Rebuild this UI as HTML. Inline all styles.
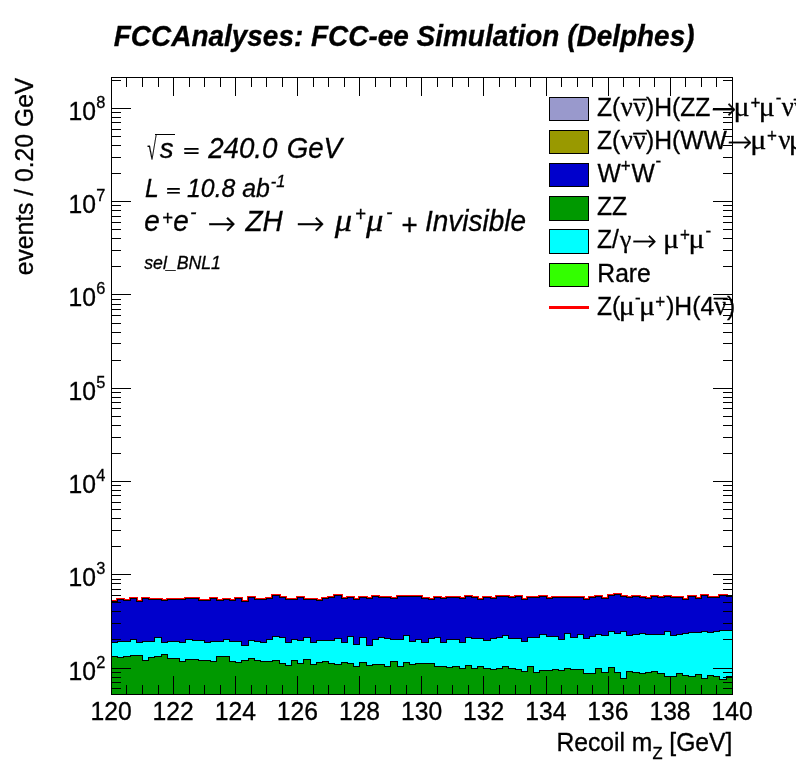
<!DOCTYPE html>
<html lang="en"><head><meta charset="utf-8"><title>FCCAnalyses: FCC-ee Simulation (Delphes)</title>
<style>html,body{margin:0;padding:0;background:#fff;overflow:hidden;}svg{display:block;}text{font-family:"Liberation Sans",Arial,Helvetica,sans-serif;fill:#000;white-space:pre;stroke:#000;stroke-width:0.3px;}.i{font-style:italic;}.b{font-weight:bold;font-style:italic;}.s{font-family:"Liberation Serif","DejaVu Serif",serif;}.si{font-family:"Liberation Serif","DejaVu Serif",serif;font-style:italic;}.a{font-family:"DejaVu Sans Light","DejaVu Serif","DejaVu Sans",serif;font-weight:200;}</style></head><body>
<svg width="796" height="772" viewBox="0 0 796 772">
<rect x="0" y="0" width="796" height="772" fill="#ffffff"/>
<g shape-rendering="crispEdges">
<path d="M111.50 601.5 L117.50 601.5 L117.50 599.5 L123.50 599.5 L123.50 600.5 L130.50 600.5 L130.50 598.5 L136.50 598.5 L136.50 601.5 L142.50 601.5 L142.50 598.5 L148.50 598.5 L148.50 599.5 L154.50 599.5 L154.50 599.5 L161.50 599.5 L161.50 600.5 L167.50 600.5 L167.50 599.5 L173.50 599.5 L173.50 599.5 L179.50 599.5 L179.50 599.5 L185.50 599.5 L185.50 598.5 L192.50 598.5 L192.50 598.5 L198.50 598.5 L198.50 600.5 L204.50 600.5 L204.50 600.5 L210.50 600.5 L210.50 598.5 L216.50 598.5 L216.50 600.5 L223.50 600.5 L223.50 599.5 L229.50 599.5 L229.50 600.5 L235.50 600.5 L235.50 598.5 L241.50 598.5 L241.50 601.5 L248.50 601.5 L248.50 597.5 L254.50 597.5 L254.50 599.5 L260.50 599.5 L260.50 599.5 L266.50 599.5 L266.50 598.5 L272.50 598.5 L272.50 595.5 L279.50 595.5 L279.50 597.5 L285.50 597.5 L285.50 599.5 L291.50 599.5 L291.50 599.5 L297.50 599.5 L297.50 597.5 L303.50 597.5 L303.50 599.5 L310.50 599.5 L310.50 599.5 L316.50 599.5 L316.50 600.5 L322.50 600.5 L322.50 598.5 L328.50 598.5 L328.50 597.5 L334.50 597.5 L334.50 595.5 L341.50 595.5 L341.50 598.5 L347.50 598.5 L347.50 597.5 L353.50 597.5 L353.50 599.5 L359.50 599.5 L359.50 597.5 L366.50 597.5 L366.50 598.5 L372.50 598.5 L372.50 596.5 L378.50 596.5 L378.50 597.5 L384.50 597.5 L384.50 597.5 L390.50 597.5 L390.50 598.5 L397.50 598.5 L397.50 596.5 L403.50 596.5 L403.50 596.5 L409.50 596.5 L409.50 596.5 L415.50 596.5 L415.50 596.5 L421.50 596.5 L421.50 598.5 L428.50 598.5 L428.50 599.5 L434.50 599.5 L434.50 597.5 L440.50 597.5 L440.50 598.5 L446.50 598.5 L446.50 597.5 L452.50 597.5 L452.50 597.5 L459.50 597.5 L459.50 598.5 L465.50 598.5 L465.50 596.5 L471.50 596.5 L471.50 597.5 L477.50 597.5 L477.50 599.5 L483.50 599.5 L483.50 597.5 L490.50 597.5 L490.50 598.5 L496.50 598.5 L496.50 596.5 L502.50 596.5 L502.50 596.5 L508.50 596.5 L508.50 597.5 L515.50 597.5 L515.50 596.5 L521.50 596.5 L521.50 599.5 L527.50 599.5 L527.50 597.5 L533.50 597.5 L533.50 597.5 L539.50 597.5 L539.50 596.5 L546.50 596.5 L546.50 598.5 L552.50 598.5 L552.50 597.5 L558.50 597.5 L558.50 597.5 L564.50 597.5 L564.50 597.5 L570.50 597.5 L570.50 597.5 L577.50 597.5 L577.50 597.5 L583.50 597.5 L583.50 599.5 L589.50 599.5 L589.50 597.5 L595.50 597.5 L595.50 596.5 L601.50 596.5 L601.50 598.5 L608.50 598.5 L608.50 595.5 L614.50 595.5 L614.50 594.5 L620.50 594.5 L620.50 596.5 L626.50 596.5 L626.50 597.5 L632.50 597.5 L632.50 596.5 L639.50 596.5 L639.50 597.5 L645.50 597.5 L645.50 598.5 L651.50 598.5 L651.50 596.5 L657.50 596.5 L657.50 597.5 L664.50 597.5 L664.50 596.5 L670.50 596.5 L670.50 597.5 L676.50 597.5 L676.50 597.5 L682.50 597.5 L682.50 599.5 L688.50 599.5 L688.50 596.5 L695.50 596.5 L695.50 598.5 L701.50 598.5 L701.50 595.5 L707.50 595.5 L707.50 597.5 L713.50 597.5 L713.50 597.5 L719.50 597.5 L719.50 595.5 L726.50 595.5 L726.50 596.5 L732.50 596.5" fill="none" stroke="#ff0000" stroke-width="3" stroke-linejoin="miter"/>
<path d="M111.50 694.5 L111.50 601.5 L117.50 601.5 L117.50 599.5 L123.50 599.5 L123.50 600.5 L130.50 600.5 L130.50 598.5 L136.50 598.5 L136.50 601.5 L142.50 601.5 L142.50 598.5 L148.50 598.5 L148.50 599.5 L154.50 599.5 L154.50 599.5 L161.50 599.5 L161.50 600.5 L167.50 600.5 L167.50 599.5 L173.50 599.5 L173.50 599.5 L179.50 599.5 L179.50 599.5 L185.50 599.5 L185.50 598.5 L192.50 598.5 L192.50 598.5 L198.50 598.5 L198.50 600.5 L204.50 600.5 L204.50 600.5 L210.50 600.5 L210.50 598.5 L216.50 598.5 L216.50 600.5 L223.50 600.5 L223.50 599.5 L229.50 599.5 L229.50 600.5 L235.50 600.5 L235.50 598.5 L241.50 598.5 L241.50 601.5 L248.50 601.5 L248.50 597.5 L254.50 597.5 L254.50 599.5 L260.50 599.5 L260.50 599.5 L266.50 599.5 L266.50 598.5 L272.50 598.5 L272.50 595.5 L279.50 595.5 L279.50 597.5 L285.50 597.5 L285.50 599.5 L291.50 599.5 L291.50 599.5 L297.50 599.5 L297.50 597.5 L303.50 597.5 L303.50 599.5 L310.50 599.5 L310.50 599.5 L316.50 599.5 L316.50 600.5 L322.50 600.5 L322.50 598.5 L328.50 598.5 L328.50 597.5 L334.50 597.5 L334.50 595.5 L341.50 595.5 L341.50 598.5 L347.50 598.5 L347.50 597.5 L353.50 597.5 L353.50 599.5 L359.50 599.5 L359.50 597.5 L366.50 597.5 L366.50 598.5 L372.50 598.5 L372.50 596.5 L378.50 596.5 L378.50 597.5 L384.50 597.5 L384.50 597.5 L390.50 597.5 L390.50 598.5 L397.50 598.5 L397.50 596.5 L403.50 596.5 L403.50 596.5 L409.50 596.5 L409.50 596.5 L415.50 596.5 L415.50 596.5 L421.50 596.5 L421.50 598.5 L428.50 598.5 L428.50 599.5 L434.50 599.5 L434.50 597.5 L440.50 597.5 L440.50 598.5 L446.50 598.5 L446.50 597.5 L452.50 597.5 L452.50 597.5 L459.50 597.5 L459.50 598.5 L465.50 598.5 L465.50 596.5 L471.50 596.5 L471.50 597.5 L477.50 597.5 L477.50 599.5 L483.50 599.5 L483.50 597.5 L490.50 597.5 L490.50 598.5 L496.50 598.5 L496.50 596.5 L502.50 596.5 L502.50 596.5 L508.50 596.5 L508.50 597.5 L515.50 597.5 L515.50 596.5 L521.50 596.5 L521.50 599.5 L527.50 599.5 L527.50 597.5 L533.50 597.5 L533.50 597.5 L539.50 597.5 L539.50 596.5 L546.50 596.5 L546.50 598.5 L552.50 598.5 L552.50 597.5 L558.50 597.5 L558.50 597.5 L564.50 597.5 L564.50 597.5 L570.50 597.5 L570.50 597.5 L577.50 597.5 L577.50 597.5 L583.50 597.5 L583.50 599.5 L589.50 599.5 L589.50 597.5 L595.50 597.5 L595.50 596.5 L601.50 596.5 L601.50 598.5 L608.50 598.5 L608.50 595.5 L614.50 595.5 L614.50 594.5 L620.50 594.5 L620.50 596.5 L626.50 596.5 L626.50 597.5 L632.50 597.5 L632.50 596.5 L639.50 596.5 L639.50 597.5 L645.50 597.5 L645.50 598.5 L651.50 598.5 L651.50 596.5 L657.50 596.5 L657.50 597.5 L664.50 597.5 L664.50 596.5 L670.50 596.5 L670.50 597.5 L676.50 597.5 L676.50 597.5 L682.50 597.5 L682.50 599.5 L688.50 599.5 L688.50 596.5 L695.50 596.5 L695.50 598.5 L701.50 598.5 L701.50 595.5 L707.50 595.5 L707.50 597.5 L713.50 597.5 L713.50 597.5 L719.50 597.5 L719.50 595.5 L726.50 595.5 L726.50 596.5 L732.50 596.5 L732.50 694.5 Z" fill="#0000cc" stroke="#000" stroke-width="1"/>
<path d="M111.50 694.5 L111.50 642.5 L117.50 642.5 L117.50 641.5 L123.50 641.5 L123.50 641.5 L130.50 641.5 L130.50 639.5 L136.50 639.5 L136.50 642.5 L142.50 642.5 L142.50 641.5 L148.50 641.5 L148.50 641.5 L154.50 641.5 L154.50 637.5 L161.50 637.5 L161.50 642.5 L167.50 642.5 L167.50 641.5 L173.50 641.5 L173.50 641.5 L179.50 641.5 L179.50 642.5 L185.50 642.5 L185.50 639.5 L192.50 639.5 L192.50 640.5 L198.50 640.5 L198.50 640.5 L204.50 640.5 L204.50 642.5 L210.50 642.5 L210.50 641.5 L216.50 641.5 L216.50 641.5 L223.50 641.5 L223.50 639.5 L229.50 639.5 L229.50 641.5 L235.50 641.5 L235.50 641.5 L241.50 641.5 L241.50 645.5 L248.50 645.5 L248.50 640.5 L254.50 640.5 L254.50 641.5 L260.50 641.5 L260.50 642.5 L266.50 642.5 L266.50 639.5 L272.50 639.5 L272.50 636.5 L279.50 636.5 L279.50 637.5 L285.50 637.5 L285.50 642.5 L291.50 642.5 L291.50 639.5 L297.50 639.5 L297.50 640.5 L303.50 640.5 L303.50 637.5 L310.50 637.5 L310.50 642.5 L316.50 642.5 L316.50 640.5 L322.50 640.5 L322.50 640.5 L328.50 640.5 L328.50 640.5 L334.50 640.5 L334.50 638.5 L341.50 638.5 L341.50 642.5 L347.50 642.5 L347.50 636.5 L353.50 636.5 L353.50 644.5 L359.50 644.5 L359.50 637.5 L366.50 637.5 L366.50 645.5 L372.50 645.5 L372.50 639.5 L378.50 639.5 L378.50 637.5 L384.50 637.5 L384.50 638.5 L390.50 638.5 L390.50 639.5 L397.50 639.5 L397.50 639.5 L403.50 639.5 L403.50 635.5 L409.50 635.5 L409.50 641.5 L415.50 641.5 L415.50 639.5 L421.50 639.5 L421.50 642.5 L428.50 642.5 L428.50 638.5 L434.50 638.5 L434.50 637.5 L440.50 637.5 L440.50 642.5 L446.50 642.5 L446.50 639.5 L452.50 639.5 L452.50 639.5 L459.50 639.5 L459.50 642.5 L465.50 642.5 L465.50 637.5 L471.50 637.5 L471.50 638.5 L477.50 638.5 L477.50 638.5 L483.50 638.5 L483.50 640.5 L490.50 640.5 L490.50 638.5 L496.50 638.5 L496.50 637.5 L502.50 637.5 L502.50 635.5 L508.50 635.5 L508.50 638.5 L515.50 638.5 L515.50 638.5 L521.50 638.5 L521.50 641.5 L527.50 641.5 L527.50 637.5 L533.50 637.5 L533.50 637.5 L539.50 637.5 L539.50 634.5 L546.50 634.5 L546.50 636.5 L552.50 636.5 L552.50 636.5 L558.50 636.5 L558.50 639.5 L564.50 639.5 L564.50 633.5 L570.50 633.5 L570.50 637.5 L577.50 637.5 L577.50 634.5 L583.50 634.5 L583.50 638.5 L589.50 638.5 L589.50 636.5 L595.50 636.5 L595.50 634.5 L601.50 634.5 L601.50 635.5 L608.50 635.5 L608.50 631.5 L614.50 631.5 L614.50 633.5 L620.50 633.5 L620.50 631.5 L626.50 631.5 L626.50 635.5 L632.50 635.5 L632.50 634.5 L639.50 634.5 L639.50 633.5 L645.50 633.5 L645.50 634.5 L651.50 634.5 L651.50 634.5 L657.50 634.5 L657.50 634.5 L664.50 634.5 L664.50 631.5 L670.50 631.5 L670.50 635.5 L676.50 635.5 L676.50 634.5 L682.50 634.5 L682.50 633.5 L688.50 633.5 L688.50 632.5 L695.50 632.5 L695.50 632.5 L701.50 632.5 L701.50 631.5 L707.50 631.5 L707.50 632.5 L713.50 632.5 L713.50 631.5 L719.50 631.5 L719.50 630.5 L726.50 630.5 L726.50 630.5 L732.50 630.5 L732.50 694.5 Z" fill="#00ffff" stroke="#000" stroke-width="1"/>
<path d="M111.50 694.5 L111.50 656.5 L117.50 656.5 L117.50 657.5 L123.50 657.5 L123.50 656.5 L130.50 656.5 L130.50 655.5 L136.50 655.5 L136.50 655.5 L142.50 655.5 L142.50 660.5 L148.50 660.5 L148.50 657.5 L154.50 657.5 L154.50 656.5 L161.50 656.5 L161.50 654.5 L167.50 654.5 L167.50 658.5 L173.50 658.5 L173.50 658.5 L179.50 658.5 L179.50 661.5 L185.50 661.5 L185.50 659.5 L192.50 659.5 L192.50 659.5 L198.50 659.5 L198.50 660.5 L204.50 660.5 L204.50 660.5 L210.50 660.5 L210.50 661.5 L216.50 661.5 L216.50 656.5 L223.50 656.5 L223.50 656.5 L229.50 656.5 L229.50 661.5 L235.50 661.5 L235.50 662.5 L241.50 662.5 L241.50 660.5 L248.50 660.5 L248.50 658.5 L254.50 658.5 L254.50 660.5 L260.50 660.5 L260.50 661.5 L266.50 661.5 L266.50 661.5 L272.50 661.5 L272.50 660.5 L279.50 660.5 L279.50 663.5 L285.50 663.5 L285.50 665.5 L291.50 665.5 L291.50 660.5 L297.50 660.5 L297.50 663.5 L303.50 663.5 L303.50 659.5 L310.50 659.5 L310.50 664.5 L316.50 664.5 L316.50 662.5 L322.50 662.5 L322.50 661.5 L328.50 661.5 L328.50 663.5 L334.50 663.5 L334.50 664.5 L341.50 664.5 L341.50 662.5 L347.50 662.5 L347.50 663.5 L353.50 663.5 L353.50 666.5 L359.50 666.5 L359.50 662.5 L366.50 662.5 L366.50 665.5 L372.50 665.5 L372.50 664.5 L378.50 664.5 L378.50 664.5 L384.50 664.5 L384.50 666.5 L390.50 666.5 L390.50 661.5 L397.50 661.5 L397.50 666.5 L403.50 666.5 L403.50 662.5 L409.50 662.5 L409.50 664.5 L415.50 664.5 L415.50 663.5 L421.50 663.5 L421.50 663.5 L428.50 663.5 L428.50 663.5 L434.50 663.5 L434.50 666.5 L440.50 666.5 L440.50 666.5 L446.50 666.5 L446.50 667.5 L452.50 667.5 L452.50 666.5 L459.50 666.5 L459.50 668.5 L465.50 668.5 L465.50 665.5 L471.50 665.5 L471.50 668.5 L477.50 668.5 L477.50 666.5 L483.50 666.5 L483.50 668.5 L490.50 668.5 L490.50 669.5 L496.50 669.5 L496.50 668.5 L502.50 668.5 L502.50 666.5 L508.50 666.5 L508.50 668.5 L515.50 668.5 L515.50 669.5 L521.50 669.5 L521.50 671.5 L527.50 671.5 L527.50 666.5 L533.50 666.5 L533.50 672.5 L539.50 672.5 L539.50 670.5 L546.50 670.5 L546.50 670.5 L552.50 670.5 L552.50 669.5 L558.50 669.5 L558.50 670.5 L564.50 670.5 L564.50 668.5 L570.50 668.5 L570.50 669.5 L577.50 669.5 L577.50 669.5 L583.50 669.5 L583.50 673.5 L589.50 673.5 L589.50 673.5 L595.50 673.5 L595.50 668.5 L601.50 668.5 L601.50 672.5 L608.50 672.5 L608.50 667.5 L614.50 667.5 L614.50 672.5 L620.50 672.5 L620.50 678.5 L626.50 678.5 L626.50 671.5 L632.50 671.5 L632.50 672.5 L639.50 672.5 L639.50 673.5 L645.50 673.5 L645.50 672.5 L651.50 672.5 L651.50 671.5 L657.50 671.5 L657.50 673.5 L664.50 673.5 L664.50 676.5 L670.50 676.5 L670.50 676.5 L676.50 676.5 L676.50 673.5 L682.50 673.5 L682.50 675.5 L688.50 675.5 L688.50 676.5 L695.50 676.5 L695.50 674.5 L701.50 674.5 L701.50 678.5 L707.50 678.5 L707.50 675.5 L713.50 675.5 L713.50 676.5 L719.50 676.5 L719.50 679.5 L726.50 679.5 L726.50 676.5 L732.50 676.5 L732.50 694.5 Z" fill="#009900" stroke="#000" stroke-width="1"/>
<path d="M111.5 695V676M111.5 77V96M126.5 695V685M126.5 77V87M142.5 695V685M142.5 77V87M158.5 695V685M158.5 77V87M173.5 695V676M173.5 77V96M189.5 695V685M189.5 77V87M204.5 695V685M204.5 77V87M220.5 695V685M220.5 77V87M235.5 695V676M235.5 77V96M251.5 695V685M251.5 77V87M266.5 695V685M266.5 77V87M282.5 695V685M282.5 77V87M297.5 695V676M297.5 77V96M313.5 695V685M313.5 77V87M328.5 695V685M328.5 77V87M344.5 695V685M344.5 77V87M359.5 695V676M359.5 77V96M375.5 695V685M375.5 77V87M390.5 695V685M390.5 77V87M406.5 695V685M406.5 77V87M421.5 695V676M421.5 77V96M437.5 695V685M437.5 77V87M452.5 695V685M452.5 77V87M468.5 695V685M468.5 77V87M483.5 695V676M483.5 77V96M499.5 695V685M499.5 77V87M515.5 695V685M515.5 77V87M530.5 695V685M530.5 77V87M546.5 695V676M546.5 77V96M561.5 695V685M561.5 77V87M577.5 695V685M577.5 77V87M592.5 695V685M592.5 77V87M608.5 695V676M608.5 77V96M623.5 695V685M623.5 77V87M639.5 695V685M639.5 77V87M654.5 695V685M654.5 77V87M670.5 695V676M670.5 77V96M685.5 695V685M685.5 77V87M701.5 695V685M701.5 77V87M716.5 695V685M716.5 77V87M732.5 695V676M732.5 77V96M111 688.5H121M733 688.5H723M111 682.5H121M733 682.5H723M111 677.5H121M733 677.5H723M111 672.5H121M733 672.5H723M111 668.5H131M733 668.5H713M111 639.5H121M733 639.5H723M111 623.5H121M733 623.5H723M111 611.5H121M733 611.5H723M111 602.5H121M733 602.5H723M111 595.5H121M733 595.5H723M111 589.5H121M733 589.5H723M111 583.5H121M733 583.5H723M111 579.5H121M733 579.5H723M111 574.5H131M733 574.5H713M111 546.5H121M733 546.5H723M111 530.5H121M733 530.5H723M111 518.5H121M733 518.5H723M111 509.5H121M733 509.5H723M111 502.5H121M733 502.5H723M111 495.5H121M733 495.5H723M111 490.5H121M733 490.5H723M111 485.5H121M733 485.5H723M111 481.5H131M733 481.5H713M111 453.5H121M733 453.5H723M111 437.5H121M733 437.5H723M111 425.5H121M733 425.5H723M111 416.5H121M733 416.5H723M111 408.5H121M733 408.5H723M111 402.5H121M733 402.5H723M111 397.5H121M733 397.5H723M111 392.5H121M733 392.5H723M111 388.5H131M733 388.5H713M111 360.5H121M733 360.5H723M111 343.5H121M733 343.5H723M111 332.5H121M733 332.5H723M111 323.5H121M733 323.5H723M111 315.5H121M733 315.5H723M111 309.5H121M733 309.5H723M111 304.5H121M733 304.5H723M111 299.5H121M733 299.5H723M111 294.5H131M733 294.5H713M111 266.5H121M733 266.5H723M111 250.5H121M733 250.5H723M111 238.5H121M733 238.5H723M111 229.5H121M733 229.5H723M111 222.5H121M733 222.5H723M111 216.5H121M733 216.5H723M111 210.5H121M733 210.5H723M111 205.5H121M733 205.5H723M111 201.5H131M733 201.5H713M111 173.5H121M733 173.5H723M111 157.5H121M733 157.5H723M111 145.5H121M733 145.5H723M111 136.5H121M733 136.5H723M111 129.5H121M733 129.5H723M111 122.5H121M733 122.5H723M111 117.5H121M733 117.5H723M111 112.5H121M733 112.5H723M111 108.5H131M733 108.5H713M111 80.5H121M733 80.5H723" fill="none" stroke="#000" stroke-width="1"/>
<rect x="111.5" y="77.5" width="621.0" height="617.0" fill="none" stroke="#000" stroke-width="1"/>
<rect x="549.5" y="97.5" width="39" height="23" fill="#9999cc" stroke="#000" stroke-width="1"/>
<rect x="549.5" y="130.5" width="39" height="23" fill="#999900" stroke="#000" stroke-width="1"/>
<rect x="549.5" y="163.5" width="39" height="23" fill="#0000cc" stroke="#000" stroke-width="1"/>
<rect x="549.5" y="196.5" width="39" height="24" fill="#009900" stroke="#000" stroke-width="1"/>
<rect x="549.5" y="229.5" width="39" height="24" fill="#00ffff" stroke="#000" stroke-width="1"/>
<rect x="549.5" y="263.5" width="39" height="23" fill="#33ff00" stroke="#000" stroke-width="1"/>
<path d="M549 307.5H589" stroke="#ff0000" stroke-width="3" fill="none"/>
</g>
<text transform="translate(113.80 46.20) scale(1 1.045)" font-size="27.95" class="b">FCCAnalyses: FCC-ee Simulation (Delphes)</text>
<text transform="translate(32.7 275.3) rotate(-90) scale(1 1.045)" font-size="24.7">events / 0.20 GeV</text>
<text transform="translate(68.50 679.60) scale(1 1.045)" font-size="24.7">10</text>
<text transform="translate(96.20 667.60) scale(1 1.045)" font-size="16.4">2</text>
<text transform="translate(68.50 585.60) scale(1 1.045)" font-size="24.7">10</text>
<text transform="translate(96.20 573.60) scale(1 1.045)" font-size="16.4">3</text>
<text transform="translate(68.50 492.60) scale(1 1.045)" font-size="24.7">10</text>
<text transform="translate(96.20 480.60) scale(1 1.045)" font-size="16.4">4</text>
<text transform="translate(68.50 399.60) scale(1 1.045)" font-size="24.7">10</text>
<text transform="translate(96.20 387.60) scale(1 1.045)" font-size="16.4">5</text>
<text transform="translate(68.50 305.60) scale(1 1.045)" font-size="24.7">10</text>
<text transform="translate(96.20 293.60) scale(1 1.045)" font-size="16.4">6</text>
<text transform="translate(68.50 212.60) scale(1 1.045)" font-size="24.7">10</text>
<text transform="translate(96.20 200.60) scale(1 1.045)" font-size="16.4">7</text>
<text transform="translate(68.50 119.60) scale(1 1.045)" font-size="24.7">10</text>
<text transform="translate(96.20 107.60) scale(1 1.045)" font-size="16.4">8</text>
<text transform="translate(111.10 719.60) scale(1 1.045)" font-size="24.7" text-anchor="middle">120</text>
<text transform="translate(173.20 719.60) scale(1 1.045)" font-size="24.7" text-anchor="middle">122</text>
<text transform="translate(235.30 719.60) scale(1 1.045)" font-size="24.7" text-anchor="middle">124</text>
<text transform="translate(297.40 719.60) scale(1 1.045)" font-size="24.7" text-anchor="middle">126</text>
<text transform="translate(359.50 719.60) scale(1 1.045)" font-size="24.7" text-anchor="middle">128</text>
<text transform="translate(421.60 719.60) scale(1 1.045)" font-size="24.7" text-anchor="middle">130</text>
<text transform="translate(483.70 719.60) scale(1 1.045)" font-size="24.7" text-anchor="middle">132</text>
<text transform="translate(545.80 719.60) scale(1 1.045)" font-size="24.7" text-anchor="middle">134</text>
<text transform="translate(607.90 719.60) scale(1 1.045)" font-size="24.7" text-anchor="middle">136</text>
<text transform="translate(670.00 719.60) scale(1 1.045)" font-size="24.7" text-anchor="middle">138</text>
<text transform="translate(732.10 719.60) scale(1 1.045)" font-size="24.7" text-anchor="middle">140</text>
<text transform="translate(556.40 751.20) scale(1 1.045)" font-size="24.7">Recoil m</text>
<text transform="translate(652.60 759.00) scale(1 1.045)" font-size="16.5">Z</text>
<text transform="translate(669.27 751.20) scale(1 1.045)" font-size="24.7">[GeV]</text>
<text transform="translate(147.2 159.3) scale(0.55 1)" font-size="31" class="s" font-weight="bold">√</text>
<path d="M155.2 134.4H174.8" stroke="#000" stroke-width="1" fill="none" shape-rendering="crispEdges"/>
<text transform="translate(159.70 158.20)" font-size="27.7" class="i">s</text>
<text transform="translate(182.75 157.25) scale(1 0.62)" font-size="27.7" class="i" font-weight="bold">=</text>
<text transform="translate(208.13 158.20) scale(1 1.045)" font-size="27.7" class="i" word-spacing="1.5">240.0 GeV</text>
<text transform="translate(145.00 196.80) scale(1 1.045)" font-size="24.8" class="i">L</text>
<text transform="translate(165.68 195.90) scale(1 0.62)" font-size="24.8" class="i" font-weight="bold">=</text>
<text transform="translate(187.06 196.80) scale(1 1.045)" font-size="24.8" class="i">10.8 ab</text>
<text transform="translate(270.80 186.80) scale(1 1.045)" font-size="16.5" class="i">-1</text>
<text transform="translate(144.25 231.10) scale(1 1.045)" font-size="28" class="i">e</text>
<text transform="translate(161.90 224.50) scale(1 1.045)" font-size="18.6" class="i">+</text>
<text transform="translate(173.35 231.10) scale(1 1.045)" font-size="28" class="i">e</text>
<text transform="translate(190.15 218.85) scale(1 1.045)" font-size="18.6" class="i">-</text>
<text transform="translate(207.15 234.60)" font-size="34.4" class="a">→</text>
<text transform="translate(245.50 231.10) scale(1 1.045)" font-size="28" class="i">ZH</text>
<text transform="translate(296.00 234.60)" font-size="34.4" class="a">→</text>
<text transform="translate(334.80 231.10) scale(1.12 1)" font-size="31" class="si">μ</text>
<text transform="translate(354.90 220.60) scale(1 1.045)" font-size="18.6" class="i">+</text>
<text transform="translate(366.00 231.10) scale(1.12 1)" font-size="31" class="si">μ</text>
<text transform="translate(386.25 219.05) scale(1 1.045)" font-size="18.6" class="i">-</text>
<text transform="translate(400.88 231.10) scale(1 1.045)" font-size="28" class="i"><tspan dy="3.3">+</tspan><tspan dy="-3.3"> Invisible</tspan></text>
<text transform="translate(144.20 268.50) scale(1 1.045)" font-size="17.7" class="i">sel_BNL1</text>
<text transform="translate(597.00 116.30) scale(1 1.045)" font-size="24.7">Z(</text>
<text transform="translate(620.70 116.30)" font-size="26.5" class="s">ν</text>
<text transform="translate(633.60 116.30)" font-size="26.5" class="s">ν</text>
<text x="640.10" y="120.45" font-size="27.5" class="s">̅</text>
<text transform="translate(646.00 116.30) scale(1 1.045)" font-size="24.7">)H(ZZ</text>
<text transform="translate(710.90 119.30)" font-size="30" class="a">→</text>
<text transform="translate(733.50 116.30) scale(1.1 1)" font-size="27.3" class="s">μ</text>
<text transform="translate(750.50 108.70) scale(1 1.045)" font-size="17">+</text>
<text transform="translate(758.80 116.30) scale(1.1 1)" font-size="27.3" class="s">μ</text>
<text transform="translate(775.75 104.40) scale(1 1.045)" font-size="17">-</text>
<text transform="translate(781.85 116.30)" font-size="26.5" class="s">ν</text>
<text transform="translate(794.20 116.30)" font-size="26.5" class="s">ν</text>
<text x="800.70" y="120.45" font-size="27.5" class="s">̅</text>
<text transform="translate(806.60 116.30) scale(1 1.045)" font-size="24.7">)</text>
<text transform="translate(597.00 149.40) scale(1 1.045)" font-size="24.7">Z(</text>
<text transform="translate(620.70 149.40)" font-size="26.5" class="s">ν</text>
<text transform="translate(633.60 149.40)" font-size="26.5" class="s">ν</text>
<text x="640.10" y="153.55" font-size="27.5" class="s">̅</text>
<text transform="translate(646.00 149.40) scale(1 1.045)" font-size="24.7">)H(WW</text>
<text transform="translate(726.90 152.40)" font-size="30" class="a">→</text>
<text transform="translate(750.20 149.40) scale(1.1 1)" font-size="27.3" class="s">μ</text>
<text transform="translate(767.10 141.80) scale(1 1.045)" font-size="17">+</text>
<text transform="translate(778.45 149.40)" font-size="26.5" class="s">ν</text>
<text transform="translate(788.80 149.40) scale(1.1 1)" font-size="27.3" class="s">μ</text>
<text transform="translate(805.80 137.50) scale(1 1.045)" font-size="17">-</text>
<text transform="translate(812.00 149.40)" font-size="26.5" class="s">ν</text>
<text x="818.50" y="153.55" font-size="27.5" class="s">̅</text>
<text transform="translate(824.50 149.40) scale(1 1.045)" font-size="24.7">)</text>
<text transform="translate(597.50 181.50) scale(1 1.045)" font-size="24.7">W</text>
<text transform="translate(620.70 171.90) scale(1 1.045)" font-size="17">+</text>
<text transform="translate(631.40 181.50) scale(1 1.045)" font-size="24.7">W</text>
<text transform="translate(655.55 166.60) scale(1 1.045)" font-size="17">-</text>
<text transform="translate(597.00 214.60) scale(1 1.045)" font-size="24.7">ZZ</text>
<text transform="translate(597.00 247.60) scale(1 1.045)" font-size="24.7">Z/</text>
<text transform="translate(620.10 247.60)" font-size="25.5" class="s">γ</text>
<text transform="translate(631.60 250.60)" font-size="30" class="a">→</text>
<text transform="translate(663.00 247.60) scale(1.1 1)" font-size="27.3" class="s">μ</text>
<text transform="translate(680.00 241.10) scale(1 1.045)" font-size="17">+</text>
<text transform="translate(688.40 247.60) scale(1.1 1)" font-size="27.3" class="s">μ</text>
<text transform="translate(705.40 236.70) scale(1 1.045)" font-size="17">-</text>
<text transform="translate(597.30 281.80) scale(1 1.045)" font-size="24.7">Rare</text>
<text transform="translate(597.00 314.60) scale(1 1.045)" font-size="24.7">Z(</text>
<text transform="translate(618.70 314.60) scale(1.1 1)" font-size="27.3" class="s">μ</text>
<text transform="translate(635.05 303.60) scale(1 1.045)" font-size="17">-</text>
<text transform="translate(638.90 314.60) scale(1.1 1)" font-size="27.3" class="s">μ</text>
<text transform="translate(655.20 308.40) scale(1 1.045)" font-size="17">+</text>
<text transform="translate(666.15 314.60) scale(1 1.045)" font-size="24.7">)H(4</text>
<text transform="translate(714.20 314.60)" font-size="26.5" class="s">ν</text>
<text x="720.70" y="318.75" font-size="27.5" class="s">̅</text>
<text transform="translate(727.05 314.60) scale(1 1.045)" font-size="24.7">)</text>
</svg></body></html>
